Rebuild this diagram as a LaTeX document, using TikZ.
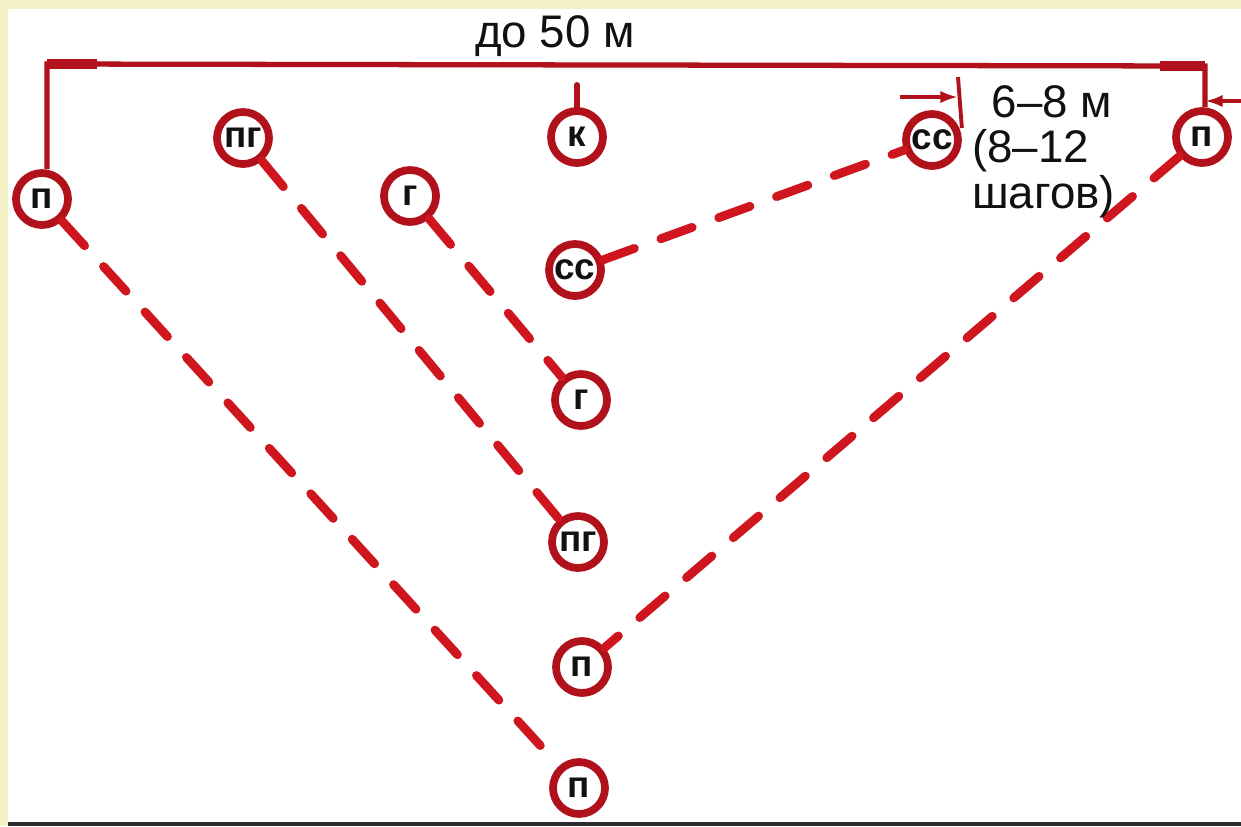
\documentclass[tikz,border=0pt]{standalone}
\usepackage{fontspec}
\setmainfont{Liberation Sans}
\usetikzlibrary{arrows.meta}
\definecolor{paper}{HTML}{F2F0C4}
\definecolor{ring}{HTML}{B0111A}
\definecolor{route}{HTML}{CF161E}
\definecolor{ink}{HTML}{111111}
\definecolor{rule}{HTML}{2B2B2B}

\begin{document}
\begin{tikzpicture}[x=0.02cm,y=-0.02cm,
  soldier/.style={circle,draw=ring,line width=4.4pt,fill=white,minimum size=1.04cm,inner sep=0pt,text=ink,font=\bfseries\fontsize{21}{21}\selectfont},
  trail/.style={route,line width=5pt,line cap=round,dash pattern=on 19pt off 16pt},
  spanline/.style={ring,line width=3pt},
  spanend/.style={ring,line width=5.7pt},
  dimarrow/.style={-{Latex[length=10pt,width=7pt]},ring,line width=2pt},
  lbl/.style={text=ink,inner sep=0pt,font=\fontsize{26}{26}\selectfont}]
  \useasboundingbox (0,0) rectangle (1241,826);
  \fill[paper] (0,0) rectangle (1241,826);
  \fill[white] (8,9) rectangle (1241,822);
  \fill[rule] (8,822) rectangle (1241,826);

  % ===== soldiers, top row =====
  \node[soldier] (pL) at (42,199) {п};
  \node[soldier] (pgT) at (243,138) {пг};
  \node[soldier] (gT) at (410,196) {г};
  \node[soldier] (k) at (577,137) {к};
  \node[soldier] (ssR) at (932,140) {сс};
  \node[soldier] (pR) at (1202,137) {п};

  % ===== soldiers, column =====
  \node[soldier] (ssC) at (575,270) {сс};
  \node[soldier] (gC) at (581,400) {г};
  \node[soldier] (pgC) at (578,542) {пг};
  \node[soldier] (pM) at (582,667) {п};
  \node[soldier] (pB) at (579,788) {п};

  % ===== routes =====
  \draw[trail] (pL) -- (pB);
  \draw[trail] (pgT) -- (pgC);
  \draw[trail] (gT) -- (gC);
  \draw[trail] (ssC) -- (ssR);
  \draw[trail] (pR) -- (pM);
  \coordinate (kTip) at (577,85);
  \draw[ring,line width=3.4pt,line cap=round] (k) -- (kTip);

  % ===== span up to 50 m =====
  \coordinate (tl) at (47,64);
  \coordinate (tr) at (1205,66);
  \draw[spanline] (pL.north -| tl) -- (tl) -- (tr) -- (tr |- pR.north);
  \draw[spanend] (tl) -- ++(50,0);
  \draw[spanend] (tr) -- ++(-45,0);
  \node[lbl,anchor=base] (span) at (555,47) {до 50 м};

  % ===== interval 6-8 m =====
  \coordinate (gapL) at (958,77);
  \coordinate (gapTail) at (900,97);
  \coordinate (gapTailR) at (1241,101);
  \draw[ring,line width=2.2pt] (ssR.east) ++(0,-12) -- (gapL);
  \draw[dimarrow] (gapTail) -- (gapTail -| gapL);
  \draw[dimarrow] (gapTailR) -- (gapTailR -| tr);
  \node[lbl,anchor=north west,align=left] (gap) at (972,85) {\hspace*{11pt}6–8 м\\(8–12\\шагов)};
\end{tikzpicture}
\end{document}
